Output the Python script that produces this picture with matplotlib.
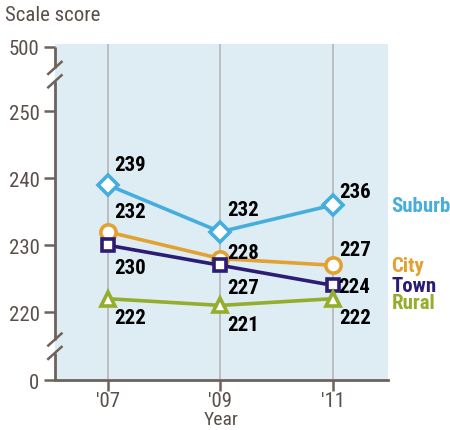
import matplotlib
matplotlib.use("Agg")
import matplotlib.pyplot as plt
from matplotlib import font_manager

years = ["'07", "'09", "'11"]
suburb = [239, 232, 236]
city = [232, 228, 227]
town = [230, 227, 224]
rural = [222, 221, 222]

names = ["Suburb", "City", "Town", "Rural"]
series = [suburb, city, town, rural]
colors = ["#45aedc", "#e1a231", "#2d1c74", "#94ad2c"]
markers = ["D", "o", "s", "^"]
msizes = [10, 11, 9, 10]

ytick_vals = [220, 230, 240, 250]
# axis is broken: 0 and 500 are drawn at these fake positions
y_zero_pos = 209.85
y_top_pos = 259.7

fams = set(f.name for f in font_manager.fontManager.ttflist)
narrow = "DejaVu Sans"
for cand in ["Roboto Condensed", "PT Sans Narrow", "Archivo Narrow", "Barlow Condensed"]:
    if cand in fams:
        narrow = cand
        break
plt.rcParams["font.family"] = [narrow, "DejaVu Sans"]

axis_c = "#6e625c"
text_c = "#5a4f4a"
fs = 15

fig = plt.figure(figsize=(4.5, 4.31), dpi=100)
ax = fig.add_axes([0.122, 0.116, 0.74, 0.78])
ax.set_facecolor("#deedf4")
x = list(range(len(years)))
ax.set_xlim(-0.47, 2.49)
ax.set_ylim(y_zero_pos, 260.1)

for xi in x:
    ax.axvline(xi, color="#b2b6b8", lw=1.2, zorder=1)

# value label offsets in pixels (dx, dy) per series/point
offsets = {
    "Suburb": [(22, 20), (23, 22), (22, 14)],
    "City": [(22, 20), (23, 6), (22, 16)],
    "Town": [(22, -22), (23, -22), (21, -1)],
    "Rural": [(22, -19), (23, -19), (22, -19)],
}

for name, vals, c, m, ms in zip(names, series, colors, markers, msizes):
    ax.plot(x, vals, color=c, lw=2.6, marker=m, ms=ms, mfc="white",
            mec=c, mew=2.6, zorder=3, clip_on=False)
    for xi, v, (dx, dy) in zip(x, vals, offsets[name]):
        ax.annotate(str(v), (xi, v), xytext=(dx, dy), textcoords="offset pixels",
                    ha="center", va="center", fontsize=fs, fontweight="bold",
                    color="black", zorder=4)

# series names on the right
name_pos = {"Suburb": 236, "City": 226.9, "Town": 224.0, "Rural": 221.4}
for name, c in zip(names, colors):
    ax.text(2.52, name_pos[name], name, color=c, fontsize=fs, fontweight="bold",
            ha="left", va="center", clip_on=False)

# axes
for s in ["top", "right", "left"]:
    ax.spines[s].set_visible(False)
ax.spines["bottom"].set_color(axis_c)
ax.spines["bottom"].set_linewidth(2)

ax.set_xticks(x)
ax.set_xticklabels(years)
ax.set_yticks([y_zero_pos] + ytick_vals + [y_top_pos])
ax.set_yticklabels(["0"] + [str(v) for v in ytick_vals] + ["500"])
ax.tick_params(axis="both", colors=axis_c, labelcolor=text_c, labelsize=fs,
               length=8, width=1.8, direction="out")
ax.tick_params(axis="y", pad=3)
ax.tick_params(axis="x", pad=0)

# left spine drawn with breaks
tr = ax.get_yaxis_transform()
breaks = [214.9, 255.5]
gap = 1.0
segs = [(y_zero_pos, breaks[0] - gap), (breaks[0] + gap, breaks[1] - gap),
        (breaks[1] + gap, y_top_pos)]
for a, b in segs:
    ax.plot([0, 0], [a, b], color=axis_c, lw=2, transform=tr, clip_on=False,
            solid_capstyle="butt")
for b in breaks:
    for d in (-gap, gap):
        ax.plot([-0.02, 0.02], [b + d - 0.9, b + d + 0.9], color=axis_c, lw=1.8,
                transform=tr, clip_on=False)

fig.text(0.012, 0.963, "Scale score", fontsize=fs, color=text_c, ha="left", va="center")
fig.text(0.491, 0.026, "Year", fontsize=14, color=text_c, ha="center", va="center")

fig.savefig("out.png", dpi=100)
